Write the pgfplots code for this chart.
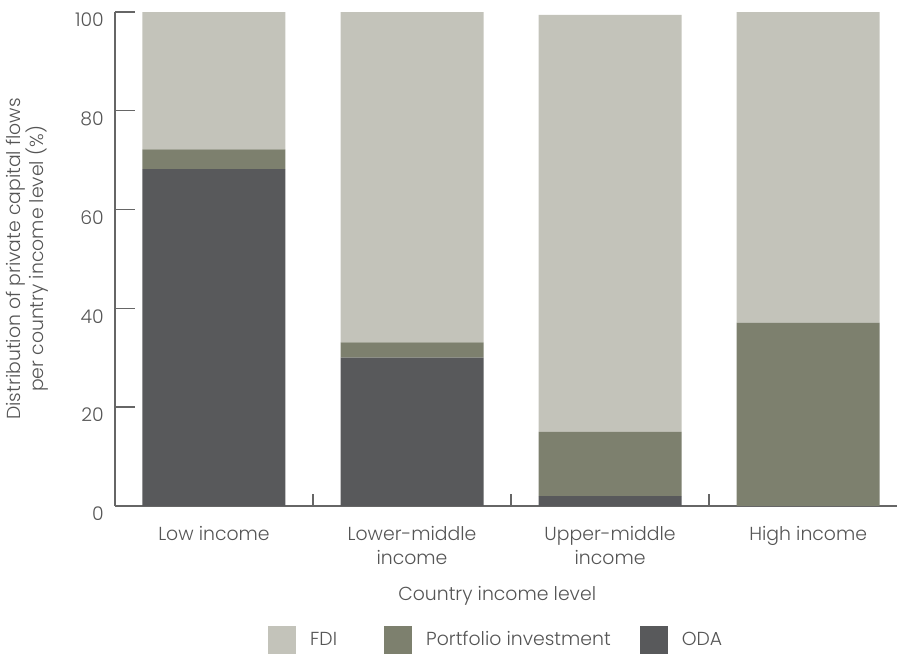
\documentclass[border=0pt]{standalone}
\usepackage{fontspec}
\setmainfont{Poppins}[UprightFont=* Light]
\usepackage{pgfplots}
\pgfplotsset{compat=1.18}
\definecolor{fdi}{HTML}{C3C3BA}
\definecolor{port}{HTML}{7D806E}
\definecolor{oda}{HTML}{58595B}
\definecolor{txt}{HTML}{555555}
\definecolor{axc}{HTML}{666666}
\pgfplotsset{sqlegend/.style={legend image code/.code={\fill[##1] (0pt,-7pt) rectangle (14pt,7pt);}}}
\begin{document}
\begin{tikzpicture}
\begin{axis}[
  scale only axis,
  width=390.5pt, height=246.5pt,
  ybar stacked,
  bar width=0.722,
  xmin=-0.5, xmax=3.45,
  ymin=0, ymax=100,
  axis x line*=bottom, axis y line*=left,
  axis line style={axc, line width=0.7pt},
  every tick/.style={axc, line width=0.7pt},
  xtick={0,1,2,3},
  xticklabels={Low income,{Lower-middle\\income},{Upper-middle\\income},High income},
  major x tick style={draw=none},
  minor xtick={0.5,1.5,2.5},
  minor tick length=6pt,
  ytick={0,20,40,60,80,100},
  major tick length=10pt,
  tick align=inside,
  /pgf/number format/assume math mode=true,
  tick label style={font=\fontsize{9.4}{12}\selectfont, text=txt},
  xticklabel style={align=center, anchor=north, yshift=-6.5pt},
  yticklabel style={anchor=east, yshift=-4pt, xshift=-2pt},
  ylabel={Distribution of private capital flows\\per country income level (\%)},
  ylabel style={align=center, at={([xshift=-43.5pt]axis description cs:0,0.5)}, anchor=center, font=\fontsize{9.4}{11.5}\selectfont, text=txt},
  xlabel={Country income level},
  xlabel style={at={([yshift=-45pt]axis cs:1.43,0)}, anchor=center, font=\fontsize{9.4}{12}\selectfont, text=txt},
  legend style={at={([yshift=-67pt]axis cs:1.43,0)}, anchor=center, draw=none, legend columns=3, font=\fontsize{9.4}{12}\selectfont, text=txt,
    /tikz/every odd column/.append style={column sep=5pt},
    /tikz/every even column/.append style={column sep=12.5pt}, legend cell align=left},
  reverse legend,
  every axis plot post/.append style={sqlegend},
]
\addplot[fill=oda, draw=none] coordinates {(0,68.2) (1,30) (2,2) (3,0)};
\addlegendentry{ODA}
\addplot[fill=port, draw=none] coordinates {(0,4) (1,3.1) (2,13) (3,37.1)};
\addlegendentry{Portfolio investment}
\addplot[fill=fdi, draw=none] coordinates {(0,27.8) (1,66.9) (2,84.4) (3,62.9)};
\addlegendentry{FDI\hspace*{9pt}}
\end{axis}
\path ([yshift=6pt]current axis.north west);
\end{tikzpicture}
\end{document}
